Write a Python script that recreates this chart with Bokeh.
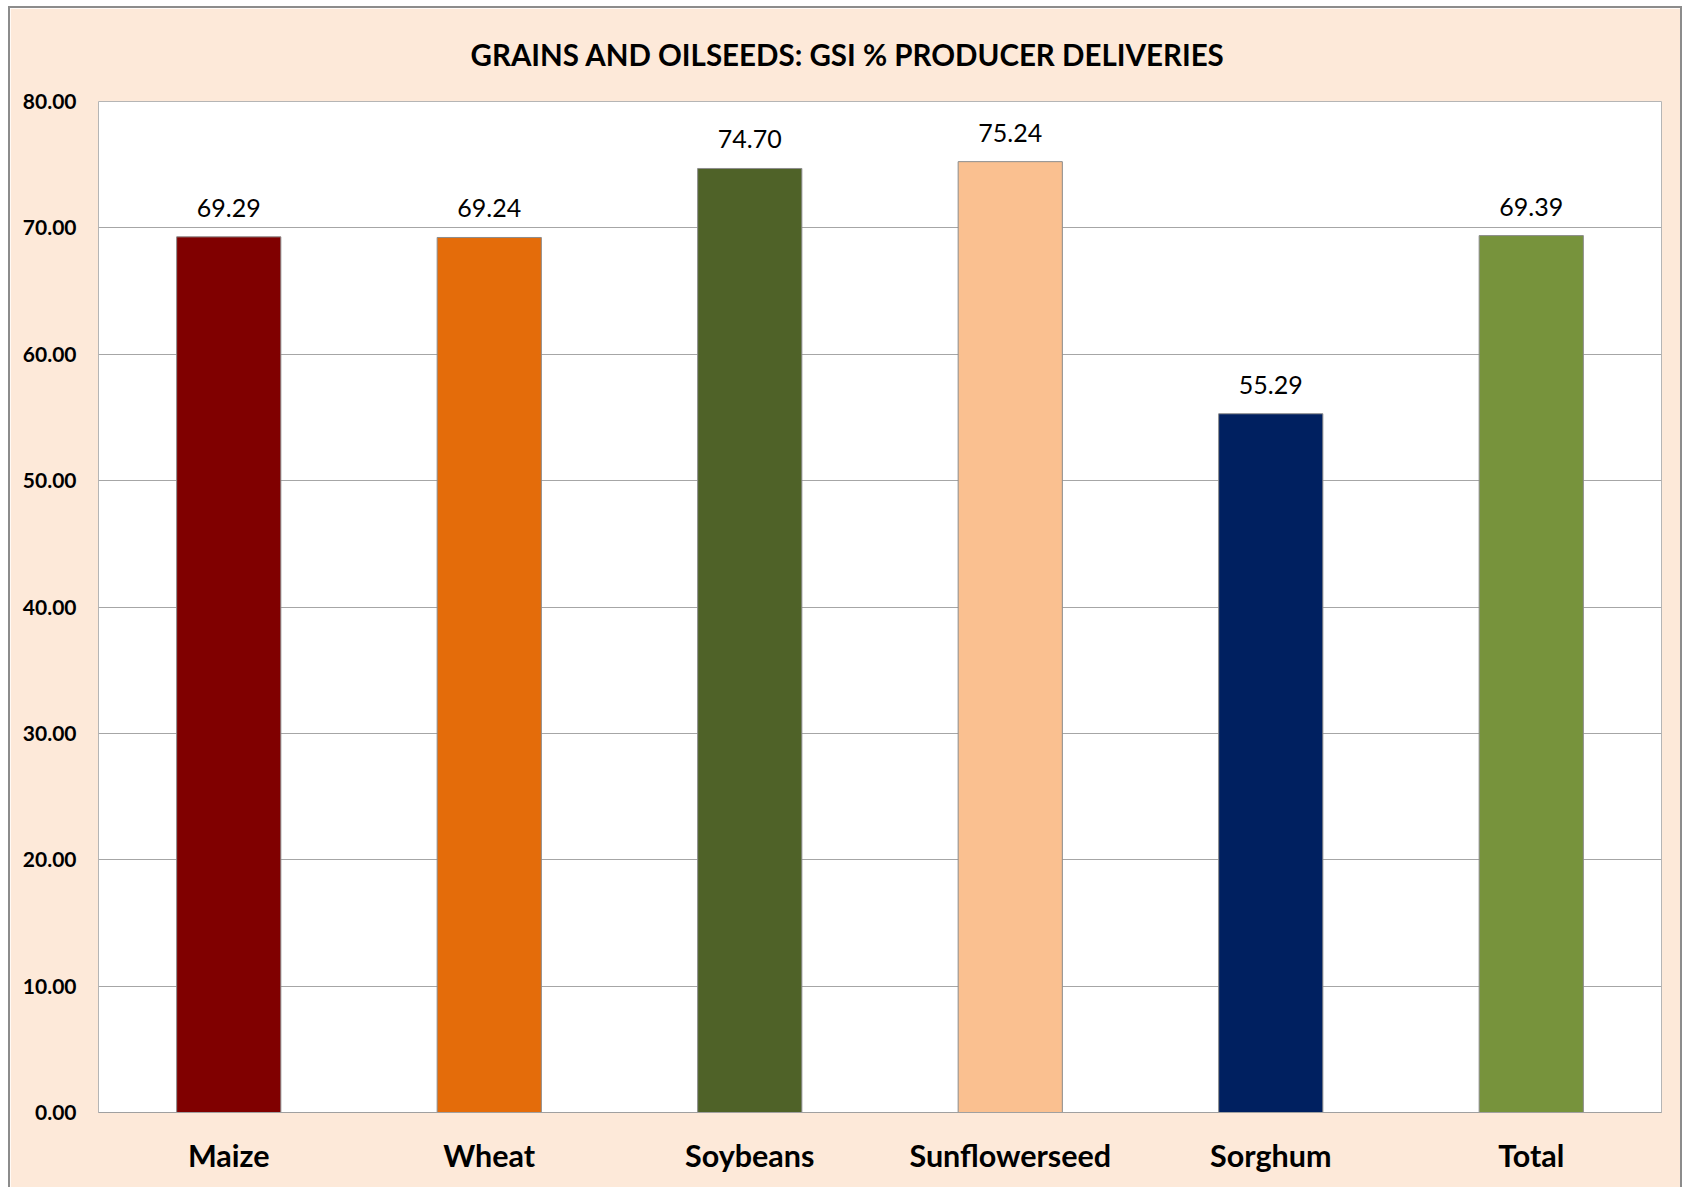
from bokeh.plotting import figure
from bokeh.models import ColumnDataSource, LabelSet, PrintfTickFormatter, FixedTicker
from bokeh.core.properties import value
from bokeh.embed import file_html
from bokeh.resources import INLINE

title_text = "GRAINS AND OILSEEDS: GSI % PRODUCER DELIVERIES"
categories = ["Maize", "Wheat", "Soybeans", "Sunflowerseed", "Sorghum", "Total"]
values = [69.29, 69.24, 74.70, 75.24, 55.29, 69.39]
colors = ["#800000", "#E46C0A", "#4F6228", "#FAC090", "#002060", "#77933C"]
labels = ["69.29", "69.24", "74.70", "75.24", "55.29", "69.39"]
y_ticks = [0, 10, 20, 30, 40, 50, 60, 70, 80]

src = ColumnDataSource(dict(cat=categories, val=values, color=colors, lab=labels))

FONT = "Lato"

p = figure(x_range=categories, y_range=(0, 80), width=1674, height=1181,
           output_backend="svg", toolbar_location=None, title=title_text,
           min_border_left=88, min_border_right=23, min_border_top=93, min_border_bottom=77)

p.margin = (6, 0, 0, 8)
p.border_fill_color = "#FDE9D9"
p.background_fill_color = "white"
p.outline_line_color = "#b5b5b5"
p.outline_line_width = 1
p.styles = {"border": "2px solid #8c8c8c", "border-bottom": "none"}

p.title.text_font = FONT
p.title.text_font_style = "bold"
p.title.text_font_size = "29.5px"
p.title.align = "left"
p.title.offset = 372
p.title.text_color = "black"
p.title.standoff = 56
p.title.vertical_align = "top"

p.vbar(x="cat", top="val", width=0.4, source=src, fill_color="color",
       line_color="#8c8c8c", line_width=1)

p.add_layout(LabelSet(x="cat", y="val", text="lab", source=src, y_offset=20,
                      text_align="center", text_baseline="alphabetic",
                      text_font=value(FONT), text_font_size=value("25px"),
                      text_color="black"))

p.yaxis.ticker = FixedTicker(ticks=y_ticks)
p.yaxis.formatter = PrintfTickFormatter(format="%.2f")
p.yaxis.major_label_text_font = FONT
p.yaxis.major_label_text_font_style = "bold"
p.yaxis.major_label_text_font_size = "21px"
p.yaxis.major_label_text_color = "black"
p.yaxis.major_tick_line_color = None
p.yaxis.minor_tick_line_color = None
p.yaxis.axis_line_color = None
p.yaxis.major_label_standoff = 16

p.xaxis.major_label_text_font = FONT
p.xaxis.major_label_text_font_style = "bold"
p.xaxis.major_label_text_font_size = "30.5px"
p.xaxis.major_label_text_color = "black"
p.xaxis.major_tick_line_color = None
p.xaxis.axis_line_color = "#a0a0a0"
p.xaxis.major_label_standoff = 18

p.xgrid.grid_line_color = None
p.ygrid.grid_line_color = "#a6a6a6"
p.ygrid.grid_line_width = 1

p.x_range.range_padding = 0

open("out.html", "w").write(file_html(p, INLINE))
